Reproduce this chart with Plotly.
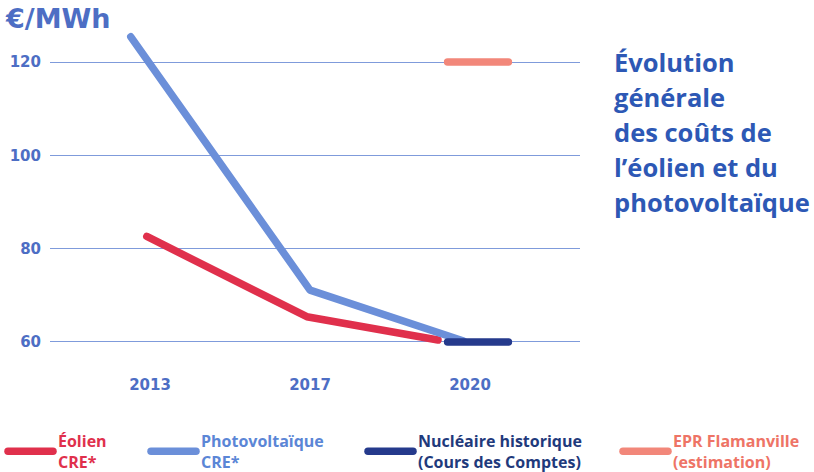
import plotly.graph_objects as go

# ---- data ----
tick_labels = ["2013", "2017", "2020"]
tick_pos = [0, 1, 2]

eolien_x = [-0.02, 0.98, 1.8]
eolien_y = [82.6, 65.4, 60.4]

pv_x = [-0.12, 1.0, 1.96]
pv_y = [125.4, 71.1, 60.2]

nucl_x = [1.86, 2.24]
nucl_y = [60, 60]

epr_x = [1.86, 2.24]
epr_y = [120, 120]

y_ticks = [60, 80, 100, 120]

title_lines = ["Évolution", "générale", "des coûts de", "l’éolien et du", "photovoltaïque"]

# ---- style ----
RED = "#e0304c"
PV = "#6b8fd9"
NAVY = "#253a8c"
EPR = "#f2877a"
AXIS_TXT = "#4d6ec4"
TITLE = "#2d58b5"
FONT = "Open Sans"
NUMFONT = "DejaVu Sans"

W, H = 814, 472
L, R, T, B = 50, 234, 30, 112
pw, ph = W - L - R, H - T - B

def px2x(px):
    return (px - L) / pw

def py2y(py):
    return (H - B - py) / ph

fig = go.Figure()

series = [
    ("<b><span style='color:%s'>Éolien<br>CRE*</span></b>" % RED, eolien_x, eolien_y, RED, "legend", 8),
    ("<b><span style='color:%s'>Photovoltaïque<br>CRE*</span></b>" % "#5b86d6", pv_x, pv_y, PV, "legend2", 151),
    ("<b><span style='color:%s'>Nucléaire historique<br>(Cours des Comptes)</span></b>" % "#1f3a7c", nucl_x, nucl_y, NAVY, "legend3", 368),
    ("<b><span style='color:%s'>EPR Flamanville<br>(estimation)</span></b>" % "#ee7466", epr_x, epr_y, EPR, "legend4", 623),
]

for name, xs, ys, col, lg, _ in series:
    fig.add_trace(go.Scatter(
        x=xs, y=ys, mode="lines", name=name,
        line=dict(color=col, width=7.5),
        legend=lg, hoverinfo="skip",
    ))

layout_legends = {}
for name, xs, ys, col, lg, lpx in series:
    layout_legends[lg] = dict(
        x=px2x(lpx - 5), y=py2y(424), xanchor="left", yanchor="top",
        bgcolor="rgba(0,0,0,0)", borderwidth=0,
        font=dict(family=FONT, size=16),
        valign="middle", tracegroupgap=0, itemwidth=45,
    )

annotations = [
    dict(text="<b>€/MWh</b>", xref="paper", yref="paper", x=px2x(3), y=py2y(19),
         xanchor="left", yanchor="middle", showarrow=False,
         font=dict(family=NUMFONT, size=27, color=AXIS_TXT)),
]
for i, line in enumerate(title_lines):
    annotations.append(dict(
        text="<b>%s</b>" % line, xref="paper", yref="paper",
        x=px2x(612), y=py2y(62 + 35 * i), xanchor="left", yanchor="middle",
        showarrow=False, font=dict(family=FONT, size=25.5, color=TITLE)))

fig.update_layout(
    width=W, height=H,
    margin=dict(l=L, r=R, t=T, b=B, autoexpand=False),
    paper_bgcolor="white", plot_bgcolor="white",
    showlegend=True,
    annotations=annotations,
    **layout_legends,
)

fig.update_xaxes(
    range=[(50 - 150) / 160, (580 - 150) / 160],
    tickvals=tick_pos, ticktext=["<b>%s</b>" % t for t in tick_labels],
    showgrid=False, zeroline=False, showline=False,
    tickfont=dict(family=NUMFONT, size=15, color=AXIS_TXT),
    ticks="", ticklabelstandoff=14, fixedrange=True,
)

y_top = 120 + (62 - T) / (93.3 / 20)
y_bot = y_top - ph / (93.3 / 20)
fig.update_yaxes(
    range=[y_bot, y_top],
    tickvals=y_ticks, ticktext=["<b>%d</b>" % v for v in y_ticks],
    showgrid=True, gridcolor="#7f9bdb", gridwidth=1,
    zeroline=False, showline=False,
    tickfont=dict(family=NUMFONT, size=15, color=AXIS_TXT),
    ticks="", ticklabelstandoff=8, fixedrange=True,
)

fig.write_html(
    "out.html",
    config={"displayModeBar": False},
    post_script=(
        "document.body.style.margin='0';document.body.style.overflow='hidden';"
        "document.querySelectorAll('.scatterlayer .js-line, .legendlines path')"
        ".forEach(function(p){p.style.strokeLinecap='round';p.style.strokeLinejoin='round';});"
    ),
)
